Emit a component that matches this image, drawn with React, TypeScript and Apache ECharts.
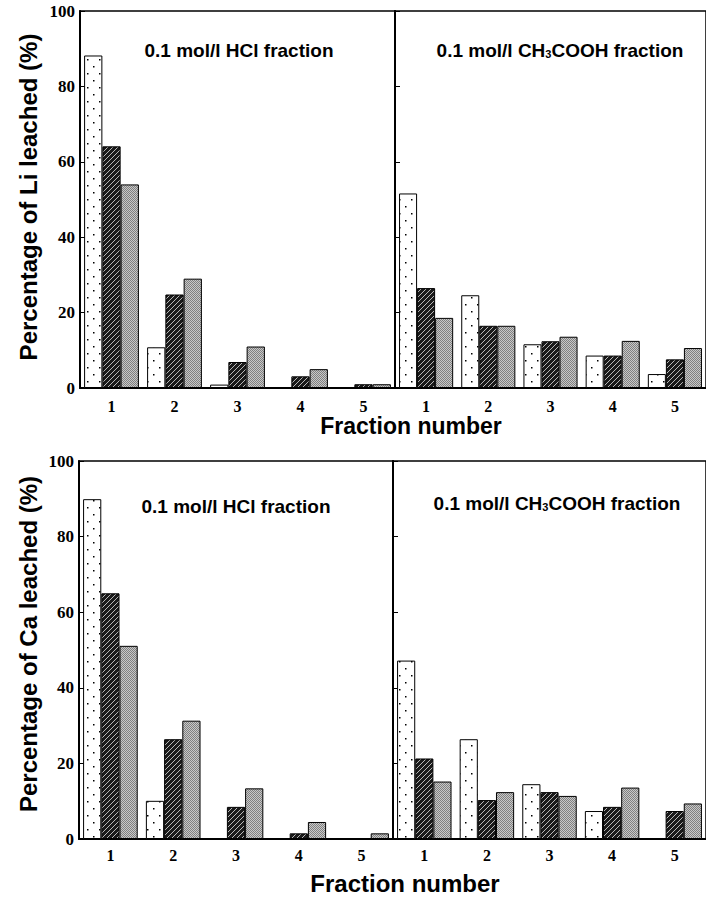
import React, { useEffect, useRef } from 'react';
import * as echarts from 'echarts';

// Fraction numbers (categories)
const fractions = ['1', '2', '3', '4', '5'];

// Li leached (%) — 0.1 mol/l HCl fraction
const liHclDotted = [88.2, 10.8, 0.9, 0, 0];
const liHclHatched = [64.1, 24.8, 6.9, 3.1, 1.0];
const liHclGray = [54.0, 29.0, 11.0, 5.0, 1.0];
// Li leached (%) — 0.1 mol/l CH3COOH fraction
const liAceticDotted = [51.6, 24.6, 11.6, 8.6, 3.7];
const liAceticHatched = [26.5, 16.5, 12.4, 8.6, 7.6];
const liAceticGray = [18.6, 16.5, 13.6, 12.5, 10.6];

// Ca leached (%) — 0.1 mol/l HCl fraction
const caHclDotted = [89.9, 10.1, 0, 0, 0];
const caHclHatched = [65.0, 26.4, 8.5, 1.5, 0];
const caHclGray = [51.1, 31.3, 13.4, 4.5, 1.5];
// Ca leached (%) — 0.1 mol/l CH3COOH fraction
const caAceticDotted = [47.2, 26.4, 14.5, 7.4, 0];
const caAceticHatched = [21.3, 10.3, 12.4, 8.5, 7.4];
const caAceticGray = [15.2, 12.4, 11.4, 13.6, 9.4];

const yMin = 0;
const yMax = 100;
const yInterval = 20;

const SANS = '"Liberation Sans", Arial, sans-serif';
const SERIF = '"Liberation Serif", "Times New Roman", serif';

function makePattern(w: number, h: number, draw: (ctx: CanvasRenderingContext2D) => void) {
  const c = document.createElement('canvas');
  c.width = w;
  c.height = h;
  const ctx = c.getContext('2d') as CanvasRenderingContext2D;
  draw(ctx);
  return { image: c.toDataURL(), repeat: 'repeat', imageWidth: w, imageHeight: h } as any;
}

export default function App() {
  const ref = useRef<HTMLDivElement>(null);

  useEffect(() => {
    document.body.style.margin = '0';
    if (!ref.current) return;
    const chart = echarts.init(ref.current, undefined, { renderer: 'svg' });

    const dotted = makePattern(12, 14, (ctx) => {
      ctx.fillStyle = '#ffffff';
      ctx.fillRect(0, 0, 12, 14);
      ctx.fillStyle = '#000000';
      ctx.fillRect(3, 3, 1.5, 1.5);
      ctx.fillRect(9, 10, 1.5, 1.5);
    });
    const hatched = makePattern(5, 5, (ctx) => {
      ctx.fillStyle = '#1a1a1a';
      ctx.fillRect(0, 0, 5, 5);
      ctx.strokeStyle = '#b8b8b8';
      ctx.lineWidth = 1;
      ctx.beginPath();
      ctx.moveTo(-1, 6);
      ctx.lineTo(6, -1);
      ctx.moveTo(-1, 1);
      ctx.lineTo(1, -1);
      ctx.moveTo(4, 6);
      ctx.lineTo(6, 4);
      ctx.stroke();
    });
    const gray = makePattern(2, 2, (ctx) => {
      ctx.fillStyle = '#c8c8c8';
      ctx.fillRect(0, 0, 2, 2);
      ctx.fillStyle = '#808080';
      ctx.fillRect(0, 0, 1, 1);
      ctx.fillRect(1, 1, 1, 1);
    });

    const grids = [
      { left: 80, top: 11, width: 315, height: 377 },
      { left: 395, top: 11, width: 317, height: 377 },
      { left: 79, top: 461, width: 314, height: 378 },
      { left: 393, top: 461, width: 317, height: 378 },
    ].map((g) => ({ ...g, show: true, borderColor: '#000', borderWidth: 1.5, containLabel: false }));

    const panels = [
      [liHclDotted, liHclHatched, liHclGray],
      [liAceticDotted, liAceticHatched, liAceticGray],
      [caHclDotted, caHclHatched, caHclGray],
      [caAceticDotted, caAceticHatched, caAceticGray],
    ];
    const fills = [dotted, hatched, gray];

    const xAxis = grids.map((_, i) => ({
      type: 'category',
      gridIndex: i,
      data: fractions,
      axisTick: { show: false },
      axisLine: { show: true, lineStyle: { color: '#000', width: 2 } },
      axisLabel: {
        color: '#000',
        fontFamily: SERIF,
        fontWeight: 'bold',
        fontSize: 16,
        margin: i < 2 ? 10 : 8,
      },
    }));

    const yAxis = grids.map((_, i) => ({
      type: 'value',
      gridIndex: i,
      min: yMin,
      max: yMax,
      interval: yInterval,
      splitLine: { show: false },
      axisLine: { show: true, lineStyle: { color: '#000', width: 2 } },
      axisTick: { show: true, inside: true, length: 5, lineStyle: { color: '#000', width: 1 } },
      axisLabel: {
        show: i % 2 === 0,
        color: '#000',
        fontFamily: SERIF,
        fontWeight: 'bold',
        fontSize: 17,
        margin: 5,
      },
    }));

    const series: any[] = [];
    panels.forEach((panel, i) => {
      panel.forEach((values, j) => {
        series.push({
          type: 'bar',
          xAxisIndex: i,
          yAxisIndex: i,
          data: values,
          barGap: '0%',
          barCategoryGap: '13%',
          itemStyle: { color: fills[j], borderColor: '#000', borderWidth: 1 },
          emphasis: { disabled: true },
        });
      });
    });

    const titleFont = `bold 19px ${SANS}`;
    const rich = {
      s: { fontSize: 11, fontWeight: 'bold', fontFamily: SANS, verticalAlign: 'bottom', fill: '#000' },
    };

    const graphic: any[] = [
      { type: 'text', x: 239, y: 50, style: { text: '0.1 mol/l HCl fraction', font: titleFont, fill: '#000', align: 'center', verticalAlign: 'middle' } },
      { type: 'text', x: 560, y: 50, style: { text: '0.1 mol/l CH{s|3}COOH fraction', font: titleFont, fill: '#000', align: 'center', verticalAlign: 'middle', rich } },
      { type: 'text', x: 236, y: 506, style: { text: '0.1 mol/l HCl fraction', font: titleFont, fill: '#000', align: 'center', verticalAlign: 'middle' } },
      { type: 'text', x: 557, y: 503, style: { text: '0.1 mol/l CH{s|3}COOH fraction', font: titleFont, fill: '#000', align: 'center', verticalAlign: 'middle', rich } },
      { type: 'text', x: 28, y: 197, rotation: Math.PI / 2, style: { text: 'Percentage of Li leached (%)', font: `bold 24px ${SANS}`, fill: '#000', align: 'center', verticalAlign: 'middle' } },
      { type: 'text', x: 28, y: 644, rotation: Math.PI / 2, style: { text: 'Percentage of Ca leached (%)', font: `bold 24px ${SANS}`, fill: '#000', align: 'center', verticalAlign: 'middle' } },
      { type: 'text', x: 411, y: 426, style: { text: 'Fraction number', font: `bold 23px ${SANS}`, fill: '#000', align: 'center', verticalAlign: 'middle' } },
      { type: 'text', x: 405, y: 883, style: { text: 'Fraction number', font: `bold 24px ${SANS}`, fill: '#000', align: 'center', verticalAlign: 'middle' } },
    ];

    chart.setOption({
      animation: false,
      backgroundColor: '#fff',
      grid: grids,
      xAxis,
      yAxis,
      series,
      graphic,
    });

    return () => chart.dispose();
  }, []);

  return <div ref={ref} style={{ width: 706, height: 898 }} />;
}
